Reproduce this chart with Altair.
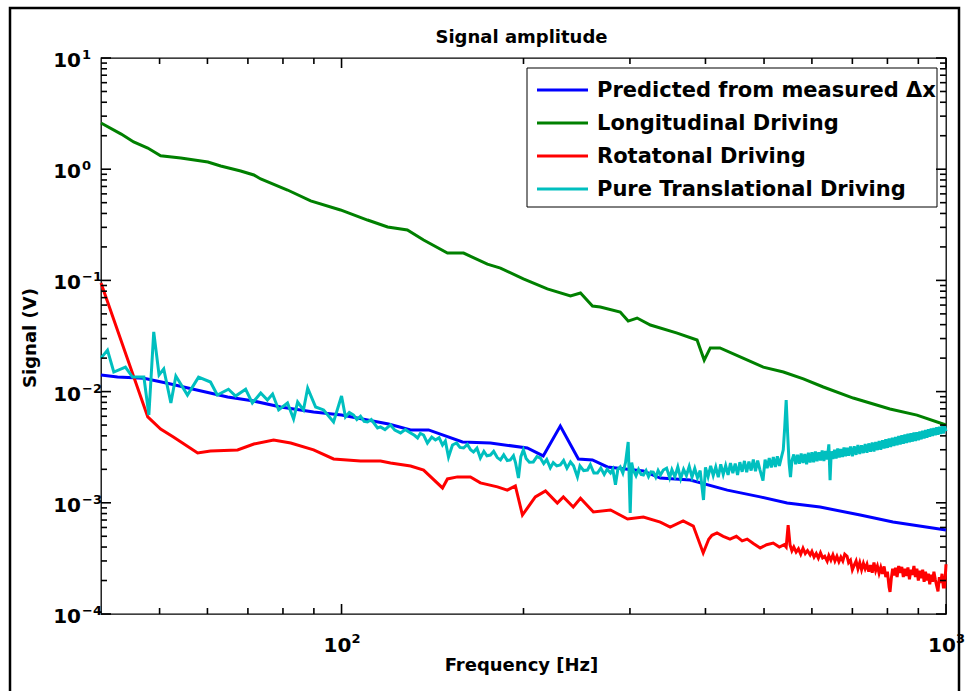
import altair as alt
import pandas as pd

FONT = "DejaVu Sans"

series_names = ["Predicted from measured Δx", "Longitudinal Driving",
                "Rotatonal Driving", "Pure Translational Driving"]
series_colors = ["#0000ff", "#008000", "#ff0000", "#00bfbf"]

# Predicted from measured dx (blue)
pred_freq = [40, 42.6, 47.1, 51.5, 56.9, 64.8, 71.6, 79.3, 89.9, 100, 110.4, 119.6,
             130.1, 139.3, 158.5, 176.3, 202.9, 215.6, 230.1, 246.5, 260.1, 275.3,
             315.8, 336.8, 377.4, 434.7, 492.7, 546.0, 619.0, 721.3, 817.2, 1000]
pred_amp = [0.0141, 0.0135, 0.0132, 0.0119, 0.0105, 0.00893, 0.00822, 0.00727, 0.00656,
            0.00616, 0.00556, 0.00512, 0.00452, 0.00452, 0.00352, 0.00345, 0.00311,
            0.00264, 0.00491, 0.00248, 0.00243, 0.00210, 0.00193, 0.00167, 0.00160,
            0.00130, 0.00113, 0.000995, 0.000916, 0.000776, 0.000671, 0.000569]

# Longitudinal driving (green)
long_freq = [40, 43.2, 45.3, 47.8, 50.2, 54.2, 60.1, 63.1, 68.1, 71.6, 73.5, 81.4, 88.9,
             99.6, 110.4, 119.2, 128.5, 136.7, 149.7, 159.2, 174.3, 183.2, 199.9, 219.0,
             239.2, 248.5, 260.1, 268.0, 289.1, 298.0, 308.3, 324.3, 359.2, 387.4, 398.1,
             407.4, 422.7, 461.5, 498.6, 538.3, 580.8, 626.6, 702.3, 807.8, 895.3, 1000]
long_amp = [2.60, 2.07, 1.76, 1.55, 1.32, 1.26, 1.16, 1.07, 0.964, 0.887, 0.817, 0.650,
            0.518, 0.430, 0.349, 0.302, 0.284, 0.231, 0.176, 0.176, 0.140, 0.129, 0.103,
            0.0838, 0.0724, 0.0771, 0.0589, 0.0577, 0.0520, 0.0431, 0.0459, 0.0397,
            0.0336, 0.0291, 0.0192, 0.0247, 0.0247, 0.0200, 0.0166, 0.0150, 0.0130,
            0.0110, 0.00875, 0.00697, 0.00615, 0.00501]

# Rotational driving (red)
rot_freq = [40, 47.8, 50.2, 52.7, 57.8, 60.7, 67.3, 71.6, 77.2, 82.4, 89.9, 97.0, 107.5,
            116.0, 120.5, 130.1, 136.7, 146.9, 149.7, 155.5, 163.4, 169.7, 181.1, 188.0,
            193.9, 199.2, 209.2, 217.5, 227.5, 232.8, 241.7, 248.5, 261.0, 278.6, 297.3,
            315.8, 336.8, 349.7, 367.4, 381.9, 396.6, 405, 410, 418, 428, 439.2, 450, 460,
            468.9, 480, 492.7, 505, 517.8, 530, 540, 544, 548.1, 552, 556,
            560, 565, 570, 575, 580, 585, 590, 596, 600, 605, 610, 615, 620, 625, 630,
            636, 640, 645, 650, 655, 660, 665, 670, 675, 680, 686, 690, 695, 700, 705,
            710, 715, 720, 725, 730, 735, 740, 745, 750, 755, 760, 765, 770, 775, 780,
            785, 790, 795, 800, 805, 808, 812, 816, 820, 825, 830, 835, 840, 845, 850,
            855, 860, 865, 870, 875, 880, 885, 890, 895, 900, 905, 910, 915, 920, 925,
            930, 935, 940, 945, 950, 955, 960, 965, 970, 975, 980, 985, 990, 995, 1000]
rot_amp = [0.0948, 0.00592, 0.00461, 0.00391, 0.00281, 0.00292, 0.00299, 0.00338,
           0.00367, 0.00345, 0.00299, 0.00248, 0.00238, 0.00238, 0.00228, 0.00214,
           0.00197, 0.00136, 0.00164, 0.00171, 0.00171, 0.00151, 0.00139, 0.00130,
           0.00142, 0.000776, 0.00113, 0.00128, 0.000995, 0.00113, 0.000916, 0.00110,
           0.000826, 0.000861, 0.000714, 0.000745, 0.000671, 0.000605, 0.000686,
           0.000618, 0.000354, 0.000470, 0.000510, 0.000535, 0.000500, 0.000472,
           0.000500, 0.000455, 0.000472, 0.000430, 0.000392, 0.000420, 0.000435,
           0.000400, 0.000420, 0.000400, 0.000631, 0.000420, 0.000370,
           0.000400, 0.000360, 0.000385, 0.000345, 0.000390, 0.000350, 0.000372, 0.000340,
           0.000365, 0.000325, 0.000350, 0.000318, 0.000355, 0.000320, 0.000330,
           0.000298, 0.000335, 0.000305, 0.000340, 0.000300, 0.000330, 0.000295,
           0.000325, 0.000300, 0.000345, 0.000330, 0.000290, 0.000305, 0.000250,
           0.000275, 0.000300, 0.000255, 0.000290, 0.000250, 0.000285, 0.000255,
           0.000280, 0.000240, 0.000275, 0.000235, 0.000290, 0.000245, 0.000270,
           0.000232, 0.000262, 0.000230, 0.000268, 0.000215, 0.000240, 0.000175,
           0.000158, 0.000210, 0.000255, 0.000222, 0.000260, 0.000215, 0.000270,
           0.000235, 0.000265, 0.000215, 0.000255, 0.000220, 0.000262, 0.000205,
           0.000250, 0.000225, 0.000270, 0.000215, 0.000255, 0.000200, 0.000245,
           0.000210, 0.000250, 0.000195, 0.000240, 0.000200, 0.000230, 0.000185,
           0.000225, 0.000195, 0.000240, 0.000205, 0.000180, 0.000160, 0.000215,
           0.000190, 0.000230, 0.000175, 0.000175, 0.000280]

# Pure translational driving (cyan)
trans_freq = [40.0, 41.0, 42.0, 43.9, 45.1, 47.1, 48.0, 48.9, 49.9, 50.8, 52.2, 53.2, 55.6,
              58.0, 60.7, 62.3, 65.0, 66.8, 69.4, 71.2, 73.5, 75.4, 76.9, 78.7, 81.4, 83.3,
              84.6, 86.5, 87.9, 90.6, 93.4, 97.0, 100.0, 101.5, 103, 104.7, 106, 107.5,
              109, 110.4, 112, 114.7, 116, 118, 120.5, 122.5, 125.2, 127.5, 130.1, 132,
              133.6, 135, 136.7, 138.7, 141, 143.0, 145, 146.9, 148.5, 150.3, 152.6, 155,
              157, 159.2, 161.5, 163.5, 165.3, 167.5, 169.7, 172, 174, 176.3, 178.5, 181,
              183.2, 185.5, 188, 190.2, 192.5, 194, 196.2, 198, 199.9, 202, 204.5, 207.6,
              210.5, 213.3, 216, 218.5, 221.5, 224, 227, 230.1, 233, 236, 239.2, 242,
              245.6, 248, 251.5, 255.2, 258, 261.5, 265.1, 268.5, 272, 275, 278.6, 281,
              283.9, 286.5, 289.1, 292, 295, 298.0, 300.3, 302, 303.8, 307, 310, 313, 315.8,
              319, 322, 325, 327.9, 331, 334, 337, 340.7,
              345, 349, 352, 356, 360, 364, 368, 372, 376, 380, 384, 388, 392, 397, 400,
              404, 408, 412, 416, 420, 424, 428, 432, 436, 440, 444, 448, 452, 456, 460,
              464, 468, 472, 476, 480, 484, 488, 492, 498, 502, 506, 510, 514, 518, 522,
              526, 530, 534, 538, 541, 544, 547, 550, 553, 556, 560, 564, 568, 572, 576,
              580, 584, 588, 592, 596, 600, 604, 608, 612, 616, 620, 624, 628, 632, 636,
              640, 643, 646, 650, 654, 658, 662, 666, 670, 674, 678, 682, 686, 690, 695,
              700, 705, 710, 715, 720, 725, 730, 735, 740, 745, 750, 755, 760, 765, 770,
              775, 780, 785, 790, 795, 800, 805, 810, 815, 820, 825, 830, 835, 840, 845,
              850, 855, 860, 865, 870, 875, 880, 885, 890, 895, 900, 905, 910, 915, 920,
              925, 930, 935, 940, 945, 950, 955, 960, 965, 970, 975, 980, 985, 990, 995,
              1000]
trans_amp = [0.0200, 0.0236, 0.0150, 0.0166, 0.0135, 0.0135, 0.00616, 0.0344, 0.0141,
             0.0160, 0.00789, 0.0138, 0.00931, 0.0135, 0.0122, 0.00931, 0.0105, 0.00912,
             0.0105, 0.00789, 0.00971, 0.00839, 0.00951, 0.00684, 0.00789, 0.00568,
             0.00805, 0.00684, 0.01076, 0.00727, 0.00684, 0.00533, 0.00912, 0.00592,
             0.00650, 0.00616, 0.00560, 0.00600, 0.00540, 0.00533, 0.00560, 0.00471,
             0.00481, 0.00455, 0.00501, 0.00450, 0.00425, 0.00455, 0.00425, 0.00405,
             0.00383, 0.00420, 0.00407, 0.00345, 0.00390, 0.00367, 0.00385, 0.00331,
             0.00360, 0.00258, 0.00331, 0.00345, 0.00315, 0.00311, 0.00335, 0.00300,
             0.00286, 0.00310, 0.00253, 0.00290, 0.00265, 0.00269, 0.00290, 0.00255,
             0.00243, 0.00270, 0.00240, 0.00243, 0.00265, 0.00230, 0.00167, 0.00260,
             0.00299, 0.00250, 0.00232, 0.00233, 0.00260, 0.00253, 0.00225, 0.00245,
             0.00206, 0.00230, 0.00215, 0.00219, 0.00240, 0.00205, 0.00233, 0.00215,
             0.00171, 0.00215, 0.00195, 0.00197, 0.00220, 0.00185, 0.00185, 0.00205,
             0.00180, 0.00200, 0.00185, 0.00200, 0.00145, 0.00200, 0.00210, 0.00185,
             0.00230, 0.00352, 0.000809, 0.00230, 0.00197, 0.00175, 0.00200, 0.00180,
             0.00178, 0.00195, 0.00172, 0.00190, 0.00189, 0.00170, 0.00195, 0.00178,
             0.00197,
             0.00205, 0.00168, 0.00198, 0.00172, 0.00210, 0.00165, 0.00200, 0.00176,
             0.00212, 0.00170, 0.00204, 0.00168, 0.00195, 0.00106, 0.00208, 0.00172,
             0.00215, 0.00176, 0.00210, 0.00170, 0.00222, 0.00180, 0.00216, 0.00178,
             0.00228, 0.00185, 0.00225, 0.00178, 0.00232, 0.00190, 0.00238, 0.00188,
             0.00235, 0.00195, 0.00245, 0.00192, 0.00240, 0.00200, 0.00158, 0.00245,
             0.00205, 0.00252, 0.00208, 0.00258, 0.00210, 0.00262, 0.00215, 0.00255,
             0.00300, 0.00480, 0.00840, 0.00420, 0.00230, 0.00170, 0.00240, 0.00272,
             0.00222, 0.00270, 0.00225, 0.00278, 0.00228, 0.00275, 0.00222, 0.00282,
             0.00230, 0.00285, 0.00232, 0.00290, 0.00236, 0.00285, 0.00240, 0.00295,
             0.00238, 0.00292, 0.00245, 0.00335, 0.00160, 0.00290, 0.00248, 0.00300,
             0.00250, 0.00308, 0.00255, 0.00305, 0.00258, 0.00315, 0.00262, 0.00312,
             0.00265, 0.00320, 0.00262, 0.00322, 0.00270, 0.00330, 0.00275, 0.00328,
             0.00280, 0.00338, 0.00282, 0.00342, 0.00288, 0.00348, 0.00290, 0.00352,
             0.00298, 0.00360, 0.00300, 0.00365, 0.00308, 0.00372, 0.00312, 0.00378,
             0.00318, 0.00385, 0.00325, 0.00390, 0.00330, 0.00398, 0.00335, 0.00405,
             0.00340, 0.00412, 0.00345, 0.00418, 0.00350, 0.00422, 0.00355, 0.00428,
             0.00360, 0.00432, 0.00365, 0.00438, 0.00372, 0.00445, 0.00378, 0.00452,
             0.00385, 0.00458, 0.00392, 0.00465, 0.00398, 0.00470, 0.00405, 0.00478,
             0.00410, 0.00482, 0.00415, 0.00488, 0.00420, 0.00490, 0.00440]

# axis ticks and labels
x_tick_values = [50, 60, 70, 80, 90, 100, 200, 300, 400, 500, 600, 700, 800, 900, 1000]
x_tick_major = [False, False, False, False, False, True, False, False, False, False,
                False, False, False, False, True]
y_tick_values = [k * 10.0 ** e for e in range(-4, 1) for k in range(1, 10)] + [10]
x_label_values = [100, 1000]
x_label_exps = ["2", "3"]
y_label_values = [10, 1, 0.1, 0.01, 0.001, 0.0001]
y_label_exps = ["1", "0", "−1", "−2", "−3", "−4"]

title_text = "Signal amplitude"
x_title = "Frequency [Hz]"
y_title = "Signal (V)"

W, H = 845, 556
MINOR, MAJOR = 6, 10
TICK_COLOR = "#000000"

frames = []
for name, fr, am in [(series_names[0], pred_freq, pred_amp),
                     (series_names[1], long_freq, long_amp),
                     (series_names[2], rot_freq, rot_amp),
                     (series_names[3], trans_freq, trans_amp)]:
    frames.append(pd.DataFrame({"freq": fr, "amp": am, "series": name}))

xscale = alt.Scale(type="log", domain=[40, 1000], nice=False)
yscale = alt.Scale(type="log", domain=[0.0001, 10], nice=False)
cscale = alt.Scale(domain=series_names, range=series_colors)

X = alt.X("freq:Q", scale=xscale, axis=None)
Y = alt.Y("amp:Q", scale=yscale, axis=None)

layers = []
for df in frames:
    layers.append(
        alt.Chart(df).mark_line(strokeWidth=3).encode(
            x=X, y=Y,
            color=alt.Color("series:N", scale=cscale, legend=None),
        )
    )

# tick labels as 10 with superscript
ylab = pd.DataFrame({"amp": y_label_values, "base": "10", "exp": y_label_exps})
layers.append(alt.Chart(ylab).mark_text(font=FONT, fontWeight="bold", fontSize=20, align="right",
                                        baseline="alphabetic", dy=9, color="black").encode(
    x=alt.value(-20), y=Y, text="base:N"))
layers.append(alt.Chart(ylab).mark_text(font=FONT, fontWeight="bold", fontSize=13, align="left",
                                        baseline="alphabetic", dy=1, color="black").encode(
    x=alt.value(-19), y=Y, text="exp:N"))

xlab = pd.DataFrame({"freq": x_label_values, "base": "10", "exp": x_label_exps})
layers.append(alt.Chart(xlab).mark_text(font=FONT, fontWeight="bold", fontSize=20, align="center",
                                        baseline="alphabetic", dx=-4, color="black").encode(
    x=X, y=alt.value(H + 38), text="base:N"))
layers.append(alt.Chart(xlab).mark_text(font=FONT, fontWeight="bold", fontSize=13, align="left",
                                        baseline="alphabetic", dx=10, color="black").encode(
    x=X, y=alt.value(H + 29), text="exp:N"))

# titles
layers.append(alt.Chart(pd.DataFrame({"t": [title_text]})).mark_text(
    font=FONT, fontWeight="bold", fontSize=18, align="center", baseline="alphabetic",
    color="black").encode(x=alt.value(W / 2 - 2), y=alt.value(-15), text="t:N"))
layers.append(alt.Chart(pd.DataFrame({"t": [x_title]})).mark_text(
    font=FONT, fontWeight="bold", fontSize=18, align="center", baseline="alphabetic",
    color="black").encode(x=alt.value(W / 2 - 2), y=alt.value(H + 57), text="t:N"))
layers.append(alt.Chart(pd.DataFrame({"t": [y_title]})).mark_text(
    font=FONT, fontWeight="bold", fontSize=18, align="center", baseline="alphabetic",
    angle=270, color="black").encode(x=alt.value(-65), y=alt.value(H / 2 + 2), text="t:N"))

# legend
leg = pd.DataFrame({"series": series_names})
layers.append(alt.Chart(pd.DataFrame({"a": [0]})).mark_rect(
    fill="white", stroke="black", strokeWidth=1).encode(
    x=alt.value(426), x2=alt.value(836), y=alt.value(10), y2=alt.value(149)))
for i, name in enumerate(series_names):
    yy = 32 + 33 * i
    sub = alt.Chart(leg).transform_filter(alt.datum.series == name)
    layers.append(sub.mark_rule(strokeWidth=3).encode(
        x=alt.value(436), x2=alt.value(487), y=alt.value(yy),
        color=alt.Color("series:N", scale=cscale, legend=None)))
    layers.append(sub.mark_text(font=FONT, fontWeight="bold", fontSize=21, align="left",
                                baseline="middle", color="black", dy=1).encode(
        x=alt.value(496), y=alt.value(yy), text="series:N"))

# inward ticks on all four sides, placed by the scales (drawn last, on top)
xt = pd.DataFrame({"freq": x_tick_values, "major": x_tick_major})
for major, ln in [(False, MINOR), (True, MAJOR)]:
    sub = alt.Chart(xt).transform_filter(alt.datum.major == major)
    layers.append(sub.mark_rule(color=TICK_COLOR, strokeWidth=1.6).encode(
        x=X, y=alt.value(H - ln), y2=alt.value(H)))
    layers.append(sub.mark_rule(color=TICK_COLOR, strokeWidth=1.6).encode(
        x=X, y=alt.value(0), y2=alt.value(ln)))
yt_minor = pd.DataFrame({"amp": [v for v in y_tick_values if v not in y_label_values]})
yt_major = pd.DataFrame({"amp": y_label_values})
for tdf, ln in [(yt_minor, MINOR), (yt_major, MAJOR)]:
    layers.append(alt.Chart(tdf).mark_rule(color=TICK_COLOR, strokeWidth=1.6).encode(
        y=Y, x=alt.value(0), x2=alt.value(ln)))
    layers.append(alt.Chart(tdf).mark_rule(color=TICK_COLOR, strokeWidth=1.6).encode(
        y=Y, x=alt.value(W - ln), x2=alt.value(W)))

# outer figure frame
layers.append(alt.Chart(pd.DataFrame({"a": [0]})).mark_rect(
    filled=False, stroke="black", strokeWidth=2.5).encode(
    x=alt.value(-91), x2=alt.value(858), y=alt.value(-50), y2=alt.value(645)))

chart = alt.layer(*layers).properties(
    width=W, height=H,
    autosize=alt.AutoSizeParams(type="none"),
    padding={"left": 101, "top": 58, "right": 19, "bottom": 77},
    background="white",
).configure_view(stroke="black", strokeWidth=1.3)

chart.save("out.html", embed_options={"renderer": "svg", "actions": False})
